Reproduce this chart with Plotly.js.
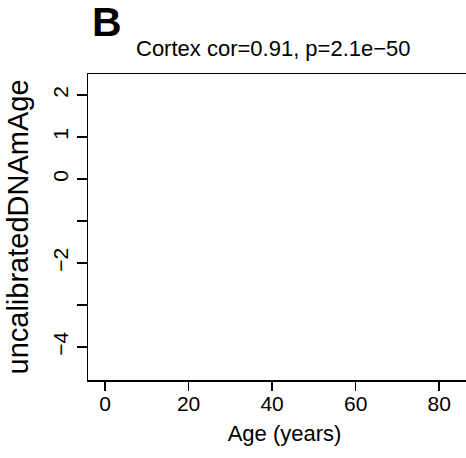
<!DOCTYPE html>
<html>
<head>
<meta charset="utf-8">
<script src="https://cdn.plot.ly/plotly-3.0.1.min.js"></script>
<style>
html, body { margin:0; padding:0; background:#fff; overflow:hidden; }
#wrap { width:466px; height:458px; overflow:hidden; position:relative; }
#plot { width:500px; height:458px; }
</style>
</head>
<body>
<div id="wrap"><div id="plot"></div></div>
<script>
// Data (the reference panel is empty: no points are drawn)
const age = [];
const dnamAge = [];
const xTickVals = [0, 20, 40, 60, 80];
const xTickText = ['0', '20', '40', '60', '80'];
const yTickVals = [-4, -3, -2, -1, 0, 1, 2];
const yTickText = ['\u22124', '', '\u22122', '', '0', '1', '2'];
const panelLabel = 'B';
const titleText = 'Cortex cor=0.91, p=2.1e\u221250';
const xTitle = 'Age (years)';
const yTitle = 'uncalibratedDNAmAge';

const FONT = 'Liberation Sans, Arial, Helvetica, sans-serif';
const L = 88, T = 74, B = 78, W = 500, H = 458;
const xRange = [-4.07, 90];
const plotW = 392.7;
const R = W - L - plotW;

const trace = {
  x: age, y: dnamAge, type: 'scatter', mode: 'markers',
  marker: {color: 'black', size: 6}, showlegend: false, hoverinfo: 'skip'
};

const layout = {
  width: W, height: H,
  margin: {l: L, r: R, t: T, b: B, pad: 0},
  paper_bgcolor: 'white', plot_bgcolor: 'white',
  font: {family: FONT, color: 'black', size: 21},
  showlegend: false,
  xaxis: {
    range: xRange, autorange: false,
    tickmode: 'array', tickvals: xTickVals, ticktext: xTickText,
    ticks: 'outside', ticklen: 9, tickwidth: 1.5, tickcolor: 'black',
    ticklabelstandoff: -5,
    showline: true, mirror: true, linecolor: 'black', linewidth: 1.5,
    showgrid: false, zeroline: false,
    tickfont: {family: FONT, size: 21, color: 'black'},
    title: {text: xTitle, font: {family: FONT, size: 22, color: 'black'}, standoff: 12}
  },
  yaxis: {
    range: [-4.786, 2.5], autorange: false,
    tickmode: 'array', tickvals: yTickVals, ticktext: yTickText,
    ticks: 'outside', ticklen: 10, tickwidth: 1.5, tickcolor: 'black',
    tickangle: -90,
    showline: true, mirror: true, linecolor: 'black', linewidth: 1.5,
    showgrid: false, zeroline: false,
    tickfont: {family: FONT, size: 21, color: 'black'},
    title: {text: yTitle, font: {family: FONT, size: 29, color: 'black'}, standoff: 12}
  },
  annotations: [
    {
      text: '<b>' + panelLabel + '</b>', xref: 'paper', yref: 'paper',
      x: (90 - L) / plotW, y: (380 - 22) / 306, xanchor: 'left', yanchor: 'middle',
      showarrow: false, font: {family: FONT, size: 41, color: 'black'}
    },
    {
      text: titleText, xref: 'paper', yref: 'paper',
      x: (134 - L) / plotW, y: (380 - 48) / 306, xanchor: 'left', yanchor: 'middle',
      showarrow: false, font: {family: FONT, size: 22, color: 'black'}
    }
  ]
};

Plotly.newPlot('plot', [trace], layout, {displayModeBar: false, staticPlot: true});
</script>
</body>
</html>
